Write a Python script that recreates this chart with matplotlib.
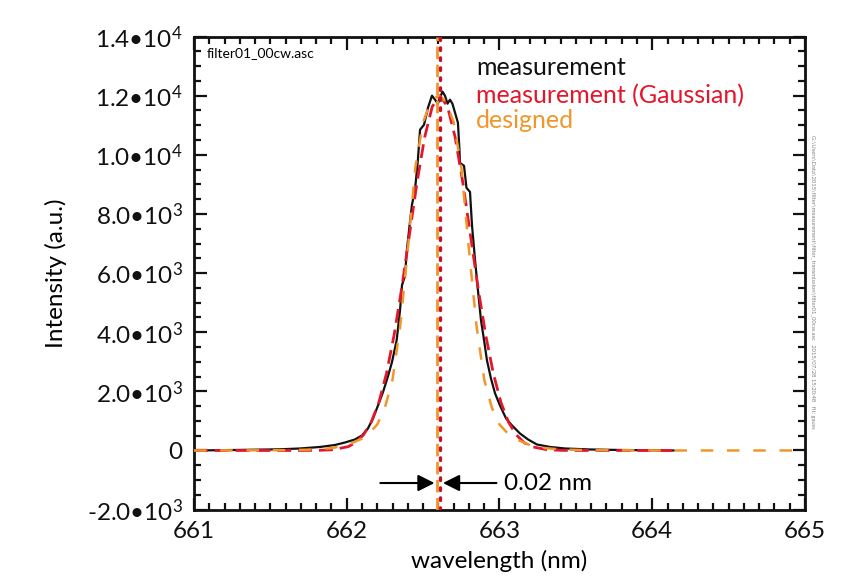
"""
    Filter transmission: measurement vs Gaussian fit vs design
"""
import matplotlib
matplotlib.use('Agg')
import matplotlib.pyplot as plt
from matplotlib.ticker import MultipleLocator

plt.rcParams['font.family'] = ['Lato', 'DejaVu Sans']
plt.rcParams['mathtext.fontset'] = 'custom'
plt.rcParams['mathtext.rm'] = 'Lato'
plt.rcParams['mathtext.it'] = 'Lato:italic'

meas_x = [661.000, 661.170, 661.367, 661.563, 661.694, 661.825, 661.923, 661.989,
          662.054, 662.100, 662.139, 662.172, 662.205, 662.237, 662.270, 662.296,
          662.327, 662.349, 662.362, 662.381, 662.394, 662.414, 662.427, 662.447,
          662.466, 662.480, 662.506, 662.532, 662.558, 662.578, 662.597, 662.610,
          662.627, 662.643, 662.660, 662.676, 662.692, 662.709, 662.728, 662.738,
          662.741, 662.768, 662.784, 662.807, 662.820, 662.840, 662.859, 662.879,
          662.899, 662.918, 662.944, 662.971, 663.003, 663.043, 663.082, 663.134,
          663.187, 663.245, 663.331, 663.429, 663.593, 663.789, 663.985, 664.140]
meas_y = [0, 10, 24, 40, 68, 119, 186, 271,
          373, 508, 746, 1085, 1525, 1966, 2508, 2983,
          3729, 4746, 5593, 5898, 6780, 7729, 8305, 8814,
          9831, 10847, 11017, 11593, 12000, 11864, 11729, 11932,
          12136, 12000, 11729, 11864, 11729, 11424, 11085, 10170,
          9729, 9627, 8881, 8746, 7627, 6441, 5424, 4407,
          3729, 3051, 2441, 1932, 1525, 1085, 847, 576,
          373, 203, 119, 68, 34, 17, 7, 0]

# Gaussian fit of the measurement
gauss_x = [661.00, 661.61, 661.81, 661.91, 662.01, 662.06, 662.11, 662.16, 662.21,
           662.26, 662.31, 662.36, 662.41, 662.46, 662.51, 662.56, 662.61, 662.66,
           662.71, 662.76, 662.81, 662.86, 662.91, 662.96, 663.01, 663.06, 663.11,
           663.16, 663.21, 663.31, 663.41, 663.61, 664.14]
gauss_y = [0, 0, 4, 26, 130, 270, 530, 950, 1620,
           2600, 3900, 5490, 7280, 9060, 10590, 11630, 12000, 11630,
           10590, 9060, 7280, 5490, 3900, 2600, 1620, 950, 530,
           270, 130, 26, 4, 0, 0]

# designed filter profile
design_x = [661.00, 661.10, 661.60, 661.80, 661.90, 662.00, 662.10, 662.15, 662.20,
            662.25, 662.30, 662.35, 662.40, 662.45, 662.50, 662.55, 662.60, 662.65,
            662.70, 662.75, 662.80, 662.85, 662.90, 662.95, 663.00, 663.05, 663.10,
            663.20, 663.30, 663.40, 663.60, 664.10, 665.00]
design_y = [0, 0, 10, 35, 80, 180, 400, 600, 880,
            1450, 2400, 4200, 6800, 9600, 11100, 11800, 12000, 11800,
            11100, 9600, 6800, 4200, 2400, 1450, 880, 600, 400,
            180, 80, 35, 10, 0, 0]

center_design = 662.59
center_meas = 662.61

ytick_vals = [-2000, 0, 2000, 4000, 6000, 8000, 10000, 12000, 14000]
ytick_labels = [r'-2.0•10$^{3}$', '0', r'2.0•10$^{3}$', r'4.0•10$^{3}$',
                r'6.0•10$^{3}$', r'8.0•10$^{3}$', r'1.0•10$^{4}$',
                r'1.2•10$^{4}$', r'1.4•10$^{4}$']
xtick_vals = [661, 662, 663, 664, 665]

c_red = '#e3172b'
c_orange = '#f0962a'
c_dot = '#c4122e'
f_size = 17.5

fig = plt.figure(figsize=(8.56, 5.78), dpi=100)
ax = fig.add_axes([0.2266, 0.1183, 0.7138, 0.8185])

ax.plot(meas_x, meas_y, color='#111111', lw=1.6, zorder=3)
ax.plot(gauss_x, gauss_y, color=c_red, lw=2.0, dashes=(5, 2.5), zorder=4)
ax.plot(design_x, design_y, color=c_orange, lw=1.8, dashes=(5, 5.5), zorder=5)

ax.axvline(center_design, color=c_orange, lw=2.0, dashes=(4.5, 2), zorder=5)
ax.axvline(center_meas, color=c_dot, lw=2.4, dashes=(0.8, 2.2),
           dash_capstyle='round', zorder=6)

ax.set_xlim(661, 665)
ax.set_ylim(-2000, 14000)
ax.set_xticks(xtick_vals)
ax.set_xticklabels([str(v) for v in xtick_vals])
ax.set_yticks(ytick_vals)
ax.set_yticklabels(ytick_labels)
ax.xaxis.set_minor_locator(MultipleLocator(0.1))
ax.yaxis.set_minor_locator(MultipleLocator(500))
ax.tick_params(which='both', direction='in', top=True, right=True,
               labelsize=f_size, width=1.6, colors='#111111')
ax.tick_params(which='major', length=9, pad=8)
ax.tick_params(which='minor', length=5)
for sp in ax.spines.values():
    sp.set_linewidth(2.0)
    sp.set_color('#111111')

ax.set_xlabel('wavelength (nm)', fontsize=f_size, labelpad=6)
ax.set_ylabel('Intensity (a.u.)', fontsize=f_size, labelpad=14)

# arrows marking the 0.02 nm shift
arrow_y = -1100
head = '-|>,head_width=0.5,head_length=1.0'
ax.annotate('', xy=(center_design - 0.015, arrow_y), xytext=(662.22, arrow_y),
            arrowprops=dict(arrowstyle=head, color='black', lw=1.5,
                            shrinkA=0, shrinkB=0))
ax.annotate('', xy=(center_meas + 0.02, arrow_y), xytext=(662.98, arrow_y),
            arrowprops=dict(arrowstyle=head, color='black', lw=1.5,
                            shrinkA=0, shrinkB=0))
ax.text(663.03, arrow_y, '0.02 nm', fontsize=f_size, va='center', ha='left')

# legend written as coloured text
leg_x = 0.462
ax.text(leg_x, 0.919, 'measurement', color='#111111', fontsize=18,
        transform=ax.transAxes, va='baseline')
ax.text(leg_x, 0.859, 'measurement (Gaussian)', color=c_red, fontsize=18,
        transform=ax.transAxes, va='baseline')
ax.text(leg_x, 0.807, 'designed', color=c_orange, fontsize=18,
        transform=ax.transAxes, va='baseline')

ax.text(0.021, 0.978, 'filter01_00cw.asc', fontsize=10, transform=ax.transAxes,
        va='top', ha='left')

fig.text(813 / 856, 1 - 282 / 578,
         r'G:\Users\Data\2015\filter\measurement\filter_transmission\filter01_00cw.asc'
         '   2015/07/28 15:20:48   fit: gauss',
         fontsize=4.2, rotation=270, color='#808080', va='center', ha='center')

plt.savefig('out.png', dpi=100)
